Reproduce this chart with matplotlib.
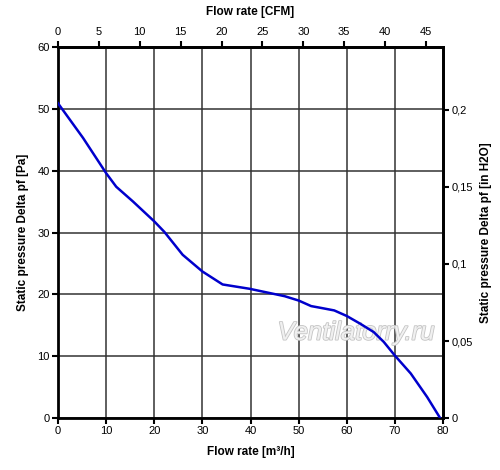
import numpy as np
import matplotlib
matplotlib.use('Agg')
import matplotlib.pyplot as plt
import matplotlib.patheffects as pe

# кривая: расход [m3/h] / статическое давление [Pa]
flow = [0, 5.2, 10, 12.1, 15.6, 20, 22.1, 25.9, 30, 34.2, 39.8, 47.1, 50,
        52.6, 54.7, 57.4, 60, 62.8, 65.6, 67.7, 70, 73.3, 76.7, 79.4]
pressure = [50.9, 45.3, 39.6, 37.4, 35.0, 31.8, 30.1, 26.4, 23.7, 21.6, 20.9,
            19.7, 19.0, 18.1, 17.8, 17.4, 16.5, 15.25, 13.9, 12.3, 10.1, 7.2, 3.4, 0]

cfm_ticks = [0, 5, 10, 15, 20, 25, 30, 35, 40, 45]
inh2o_ticks = [0, 0.05, 0.1, 0.15, 0.2]
inh2o_labels = ['0', '0,05', '0,1', '0,15', '0,2']

M3H_PER_CFM = 1.699
PA_PER_INH2O = 249.089

plt.rcParams['font.family'] = ['Liberation Sans', 'DejaVu Sans']

fig = plt.figure(figsize=(5, 4.7), dpi=100)
ax = fig.add_axes([0.116, 0.1106, 0.77, 0.7894])

ax.plot(flow, pressure, color='#0000cc', lw=1.8, zorder=3)
ax.set_xlim(0, 80)
ax.set_ylim(0, 60)
ax.set_xticks(np.arange(0, 81, 10))
ax.set_yticks(np.arange(0, 61, 10))
ax.grid(True, color='#333333', lw=1.1)
for s in ax.spines.values():
    s.set_linewidth(2)
ax.tick_params(labelsize=8, width=1.5, length=4, pad=2)

# верхняя ось CFM
top = ax.secondary_xaxis('top', functions=(lambda x: x / M3H_PER_CFM, lambda x: x * M3H_PER_CFM))
top.set_xticks(cfm_ticks)
top.tick_params(labelsize=8, width=1.5, length=4, pad=3)
top.spines['top'].set_linewidth(2)

# правая ось in H2O
right = ax.secondary_yaxis('right', functions=(lambda y: y / PA_PER_INH2O, lambda y: y * PA_PER_INH2O))
right.set_yticks(inh2o_ticks)
right.set_yticklabels(inh2o_labels)
right.tick_params(labelsize=8, width=1.5, length=4, pad=2)
right.spines['right'].set_linewidth(2)

ax.set_xlabel('Flow rate [m³/h]', fontsize=8.5, fontweight='bold', labelpad=7)
ax.set_ylabel('Static pressure Delta pf [Pa]', fontsize=8.5, fontweight='bold', labelpad=6)
top.set_xlabel('Flow rate [CFM]', fontsize=8.5, fontweight='bold', labelpad=9)
right.set_ylabel('Static pressure Delta pf [in H2O]', fontsize=8.5, fontweight='bold', labelpad=5)

# водяной знак под кривой
ax.text(62, 13.8, 'Ventilatorry.ru', fontsize=18.5, style='italic',
        color='#f0f0f0', ha='center', va='center', zorder=2.5,
        path_effects=[pe.withStroke(linewidth=1.2, foreground='#c4c4c4')])

fig.savefig('out.png', dpi=100)
